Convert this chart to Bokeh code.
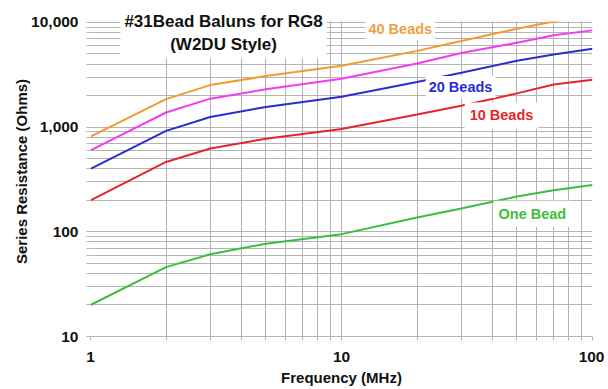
from bokeh.plotting import figure
from bokeh.models import Range1d, FixedTicker, NumeralTickFormatter, Label, BoxAnnotation
from bokeh.embed import file_html
from bokeh.resources import INLINE

# ---- data ----
freq_mhz = [1, 2, 3, 5, 10, 20, 30, 50, 70, 100]
one_bead = [20, 46, 61, 77, 95, 137, 167, 217, 250, 280]
ten_beads = [200, 465, 625, 775, 960, 1320, 1600, 2100, 2550, 2830]
twenty_beads = [400, 920, 1250, 1560, 1950, 2700, 3300, 4300, 4950, 5600]
thirty_beads = [600, 1380, 1870, 2300, 2900, 4050, 5100, 6400, 7550, 8400]
forty_beads = [810, 1850, 2520, 3080, 3850, 5350, 6650, 8700, 10200, 12000]

x_major = [1, 10, 100]
x_minor = [2, 3, 4, 5, 6, 7, 8, 9, 20, 30, 40, 50, 60, 70, 80, 90]
y_major = [10, 100, 1000, 10000]
y_minor = [20, 30, 40, 50, 60, 70, 80, 90, 200, 300, 400, 500, 600, 700, 800, 900,
           2000, 3000, 4000, 5000, 6000, 7000, 8000, 9000]

Y_MAX = 10000      # top of the scale
Y_VIEW_TOP = 14200  # room above the scale for the title box

FONT = "Liberation Sans"
GRID = "#B4B4B4"
TXT = "#111111"

p = figure(width=604, height=388, x_axis_type="log", y_axis_type="log",
           x_range=Range1d(1, 100), y_range=Range1d(10, Y_VIEW_TOP),
           output_backend="svg", toolbar_location=None, title_location=None,
           min_border_left=90, min_border_right=12, min_border_top=6, min_border_bottom=52)

p.background_fill_color = "white"
p.border_fill_color = "white"
p.outline_line_color = None

p.xaxis.ticker = FixedTicker(ticks=x_major, minor_ticks=x_minor)
p.yaxis.ticker = FixedTicker(ticks=y_major, minor_ticks=y_minor)
p.xaxis.formatter = NumeralTickFormatter(format="0")
p.yaxis.formatter = NumeralTickFormatter(format="0,0")

for ax in (p.xaxis, p.yaxis):
    ax.major_tick_line_color = GRID
    ax.minor_tick_line_color = GRID
    ax.major_tick_out = 4
    ax.major_tick_in = 0
    ax.minor_tick_out = 4
    ax.minor_tick_in = 0
    ax.major_label_text_font = FONT
    ax.major_label_text_font_style = "bold"
    ax.major_label_text_font_size = "15.5px"
    ax.major_label_text_color = TXT
    ax.axis_label_text_font = FONT
    ax.axis_label_text_font_style = "bold"
    ax.axis_label_text_font_size = "15px"
    ax.axis_label_text_color = TXT

p.xaxis.axis_line_color = GRID
p.yaxis.axis_line_color = None
p.xaxis.axis_label = "Frequency (MHz)"
p.yaxis.axis_label = "Series Resistance (Ohms)"
p.xaxis.major_label_standoff = 11
p.xaxis.axis_label_standoff = 4
p.yaxis.major_label_standoff = 8
p.yaxis.axis_label_standoff = -2

for g in (p.xgrid, p.ygrid):
    g.grid_line_color = GRID
    g.grid_line_width = 1
    g.minor_grid_line_color = GRID
    g.minor_grid_line_width = 1

series = [
    (one_bead, "#3CBE3C"),
    (ten_beads, "#E3262B"),
    (twenty_beads, "#2B2BCF"),
    (thirty_beads, "#F23CF2"),
    (forty_beads, "#F39A2E"),
]
for vals, col in series:
    p.line(freq_mhz, vals, line_color=col, line_width=2)

# blank area above the top of the scale (10,000)
p.add_layout(BoxAnnotation(bottom=Y_MAX * 1.022, fill_color="white", fill_alpha=1.0,
                           line_color=None))

def add_label(x, y, text, color, size="14.5px", pad=4):
    lab = Label(x=x, y=y, text=text, text_color=color, text_font=FONT,
                text_font_style="bold", text_font_size=size,
                text_align="center", text_baseline="middle",
                background_fill_color="white", background_fill_alpha=1.0,
                padding=pad, text_line_height=1.25)
    p.add_layout(lab)

add_label(3.39, 7940, "#31Bead Baluns for RG8\n(W2DU Style)", TXT, size="17px", pad=4)
add_label(17.15, 8650, "40 Beads", "#F0A040", pad=3)
add_label(29.8, 2420, "20 Beads", "#2B2BCF", pad=3)
add_label(43.4, 1293, "10 Beads", "#E3262B", pad=5)
add_label(57.6, 148.6, "One Bead", "#3CBE3C", pad=5)

open("out.html", "w").write(file_html(p, INLINE))
